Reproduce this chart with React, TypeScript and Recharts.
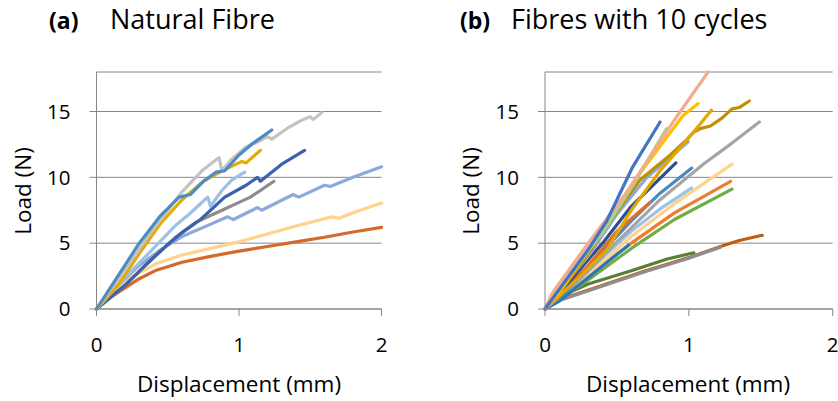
import { LineChart, Line, XAxis, YAxis, CartesianGrid } from 'recharts';

type Pt = { x: number; y: number };
const pts = (arr: number[][]): Pt[] => arr.map(([x, y]) => ({ x, y }));

const xTicks = [0, 1, 2];
const yTicks = [0, 5, 10, 15];

// (a) Natural Fibre
const natDarkOrange = [[0, 0], [0.05, 0.5], [0.1, 0.9], [0.2, 1.6], [0.3, 2.3], [0.42, 2.95], [0.6, 3.55], [0.8, 4.0], [1.0, 4.4], [1.2, 4.75], [1.4, 5.1], [1.6, 5.45], [1.8, 5.85], [2.0, 6.2]];
const natLightOrange = [[0, 0], [0.05, 0.7], [0.1, 1.2], [0.2, 2.1], [0.3, 2.75], [0.42, 3.45], [0.6, 4.1], [0.8, 4.6], [1.0, 5.1], [1.2, 5.7], [1.4, 6.3], [1.65, 7.0], [1.7, 6.9], [1.85, 7.5], [2.0, 8.05]];
const natPeriwinkle = [[0, 0], [0.15, 1.8], [0.3, 3.3], [0.45, 4.5], [0.6, 5.5], [0.75, 6.2], [0.92, 7.0], [0.96, 6.8], [1.13, 7.7], [1.16, 7.5], [1.38, 8.7], [1.42, 8.5], [1.6, 9.4], [1.64, 9.3], [1.8, 10.0], [2.0, 10.8]];
const natMidGray = [[0, 0], [0.2, 1.8], [0.4, 3.9], [0.55, 5.4], [0.7, 6.6], [0.8, 7.1], [0.9, 7.6], [1.0, 8.1], [1.08, 8.5], [1.15, 9.0], [1.245, 9.7]];
const natDarkBlue = [[0, 0], [0.2, 1.8], [0.35, 3.4], [0.5, 4.9], [0.6, 5.8], [0.73, 6.8], [0.9, 8.5], [1.05, 9.4], [1.13, 10.0], [1.15, 9.7], [1.3, 11.0], [1.46, 12.05]];
const natLightBlue = [[0, 0], [0.2, 2.4], [0.4, 4.6], [0.55, 6.3], [0.65, 7.2], [0.72, 7.9], [0.78, 8.5], [0.8, 7.8], [0.88, 9.0], [0.95, 9.8], [1.04, 10.4]];
const natGold = [[0, 0], [0.15, 1.8], [0.3, 4.2], [0.45, 6.5], [0.6, 8.3], [0.75, 9.7], [0.9, 10.6], [0.98, 11.0], [1.02, 11.2], [1.05, 11.1], [1.15, 12.05]];
const natLightGray = [[0, 0], [0.2, 3.0], [0.4, 6.1], [0.6, 8.9], [0.75, 10.6], [0.86, 11.5], [0.88, 10.5], [0.95, 11.4], [1.05, 12.3], [1.15, 12.8], [1.2, 13.1], [1.23, 12.9], [1.35, 13.8], [1.45, 14.4], [1.5, 14.6], [1.52, 14.4], [1.58, 14.9]];
const natTeal = [[0, 0], [0.15, 2.5], [0.3, 5.0], [0.45, 7.1], [0.58, 8.5], [0.66, 8.7], [0.75, 9.7], [0.84, 10.4], [0.9, 10.5], [1.0, 11.7], [1.1, 12.6], [1.23, 13.6]];

// (b) Fibres with 10 cycles
const cycBrown = [[0, 0], [0.1, 0.7], [0.4, 1.8], [0.7, 2.9], [1.0, 3.9], [1.22, 4.75], [1.35, 5.2], [1.51, 5.6]];
const cycGray = [[0, 0], [0.1, 0.65], [0.4, 1.75], [0.7, 2.85], [1.0, 3.85], [1.22, 4.7]];
const cycDarkGreen = [[0, 0], [0.1, 0.9], [0.3, 1.9], [0.6, 2.9], [0.85, 3.8], [1.035, 4.27]];
const cycGreen = [[0, 0], [0.1, 0.7], [0.3, 2.2], [0.6, 4.6], [0.9, 6.8], [1.3, 9.1]];
const cycOrange = [[0, 0], [0.1, 0.8], [0.3, 2.5], [0.6, 5.0], [0.9, 7.3], [1.29, 9.7]];
const cycLightOrange = [[0, 0], [0.1, 0.9], [0.3, 2.6], [0.6, 5.5], [0.9, 8.0], [1.3, 11.0]];
const cycLightBlue = [[0, 0], [0.3, 2.9], [0.6, 5.9], [0.8, 7.6], [1.02, 9.2]];
const cycMidGray = [[0, 0], [0.2, 1.8], [0.5, 5.1], [0.8, 8.3], [1.1, 11.0], [1.3, 12.6], [1.49, 14.2]];
const cycSteelShort = [[0, 0], [0.1, 0.6], [0.3, 2.4], [0.58, 4.85]];
const cycSteel = [[0, 0], [0.1, 0.8], [0.3, 3.2], [0.6, 6.7], [0.8, 8.8], [1.02, 10.7]];
const cycOrangeShort = [[0, 0], [0.1, 1.0], [0.3, 3.3], [0.5, 5.9], [0.73, 8.1]];
const cycNavy = [[0, 0], [0.1, 1.2], [0.4, 5.0], [0.6, 7.8], [0.91, 11.1]];
const cycPeriwinkle = [[0, 0], [0.1, 1.4], [0.3, 4.0], [0.5, 7.2], [0.7, 9.9], [0.995, 12.7]];
const cycDarkGold = [[0, 0], [0.1, 1.2], [0.3, 4.2], [0.5, 7.4], [0.66, 9.8], [0.85, 11.5], [0.98, 12.8], [1.03, 13.4], [1.08, 13.7], [1.15, 13.9], [1.23, 14.5], [1.3, 15.2], [1.35, 15.3], [1.42, 15.8]];
const cycGold = [[0, 0], [0.2, 2.0], [0.43, 4.5], [0.6, 7.5], [0.8, 10.5], [1.0, 13.0], [1.157, 15.1]];
const cycYellow = [[0, 0], [0.1, 1.3], [0.3, 4.4], [0.5, 7.6], [0.66, 10.3], [0.85, 13.1], [0.96, 14.7], [1.065, 15.6]];
const cycLightGray = [[0, 0], [0.1, 1.6], [0.3, 4.8], [0.55, 8.6]];
const cycLightGreen = [[0, 0], [0.1, 1.6], [0.4, 5.8], [0.6, 9.2], [0.845, 13.7]];
const cycSalmon = [[0, 0], [0.05, 1.2], [0.3, 5.0], [0.544, 8.5], [0.89, 14.2], [1.134, 18]];
const cycBlue = [[0, 0], [0.1, 1.5], [0.3, 4.5], [0.43, 6.7], [0.61, 10.8], [0.8, 14.2]];

const natSeries: [number[][], string][] = [
  [natDarkOrange, '#D5692B'],
  [natLightOrange, '#FFD38C'],
  [natPeriwinkle, '#8FA8DC'],
  [natMidGray, '#8C8C8C'],
  [natDarkBlue, '#3B63AD'],
  [natLightBlue, '#9CC2E6'],
  [natGold, '#E3AA00'],
  [natLightGray, '#C3C3C3'],
  [natTeal, '#4C8CC2'],
];

const cycSeries: [number[][], string][] = [
  [cycBrown, '#C55A11'],
  [cycGray, '#8E8E8E'],
  [cycDarkGreen, '#548235'],
  [cycGreen, '#70AD47'],
  [cycOrange, '#ED7D31'],
  [cycLightOrange, '#FFD38C'],
  [cycLightBlue, '#9DC3E6'],
  [cycMidGray, '#A5A5A5'],
  [cycSteelShort, '#2E75B6'],
  [cycSteel, '#4A89C0'],
  [cycOrangeShort, '#DE6F28'],
  [cycNavy, '#2F4E8F'],
  [cycPeriwinkle, '#8FA8DC'],
  [cycDarkGold, '#BF9000'],
  [cycGold, '#E0A800'],
  [cycYellow, '#FFC000'],
  [cycLightGray, '#C9C9C9'],
  [cycLightGreen, '#A9D18E'],
  [cycSalmon, '#F4AC8C'],
  [cycBlue, '#4472C4'],
];

const FONT = '"Open Sans", sans-serif';
const AXIS = '#868686';

function Panel({ series, width, marginLeft, marginRight }: { series: [number[][], string][]; width: number; marginLeft: number; marginRight: number }) {
  return (
    <LineChart width={width} height={401} margin={{ top: 72, right: marginRight, bottom: 62, left: marginLeft }}>
      <CartesianGrid vertical={false} stroke={AXIS} strokeWidth={1} />
      <XAxis
        type="number"
        dataKey="x"
        domain={[0, 2]}
        ticks={xTicks}
        allowDecimals={false}
        height={30}
        tickSize={7}
        tickMargin={21}
        stroke={AXIS}
        tick={{ fill: '#000', fontSize: 20.5, fontFamily: FONT }}
      />
      <YAxis
        type="number"
        dataKey="y"
        domain={[0, 18]}
        ticks={yTicks}
        width={60}
        tickSize={7}
        tickMargin={19}
        stroke={AXIS}
        tick={{ fill: '#000', fontSize: 20.5, fontFamily: FONT }}
      />
      {series.map(([d, c], i) => (
        <Line
          key={i}
          data={pts(d)}
          dataKey="y"
          type="linear"
          stroke={c}
          strokeWidth={3.2}
          strokeLinecap="round"
          strokeLinejoin="round"
          dot={false}
          activeDot={false}
          isAnimationActive={false}
        />
      ))}
    </LineChart>
  );
}

const abs = (left: number, top: number): React.CSSProperties => ({ position: 'absolute', left, top, whiteSpace: 'nowrap', fontFamily: FONT, color: '#000', lineHeight: 'normal' });

export default function App() {
  return (
    <div style={{ position: 'absolute', left: 0, top: 0, width: 838, height: 401, background: '#fff', overflow: 'hidden' }}>
      <div style={{ position: 'absolute', left: 0, top: 0 }}>
        <Panel series={natSeries} width={420} marginLeft={36.5} marginRight={38.5} />
      </div>
      <div style={{ position: 'absolute', left: 420, top: 0 }}>
        <Panel series={cycSeries} width={418} marginLeft={65} marginRight={5.3} />
      </div>

      <div style={{ ...abs(49, 4), fontSize: 23, fontWeight: 700 }}>(a)</div>
      <div style={{ ...abs(110, 0), fontSize: 27 }}>Natural Fibre</div>
      <div style={{ ...abs(460, 4), fontSize: 23, fontWeight: 700 }}>(b)</div>
      <div style={{ ...abs(511, 0), fontSize: 27 }}>Fibres with 10 cycles</div>

      <div style={{ ...abs(239, 383), fontSize: 22.5, transform: 'translate(-50%, -50%)' }}>Displacement (mm)</div>
      <div style={{ ...abs(688, 383), fontSize: 22.5, transform: 'translate(-50%, -50%)' }}>Displacement (mm)</div>

      <div style={{ ...abs(22, 191), fontSize: 22.5, transform: 'translate(-50%, -50%) rotate(-90deg)' }}>Load (N)</div>
      <div style={{ ...abs(470, 191), fontSize: 22.5, transform: 'translate(-50%, -50%) rotate(-90deg)' }}>Load (N)</div>
    </div>
  );
}
